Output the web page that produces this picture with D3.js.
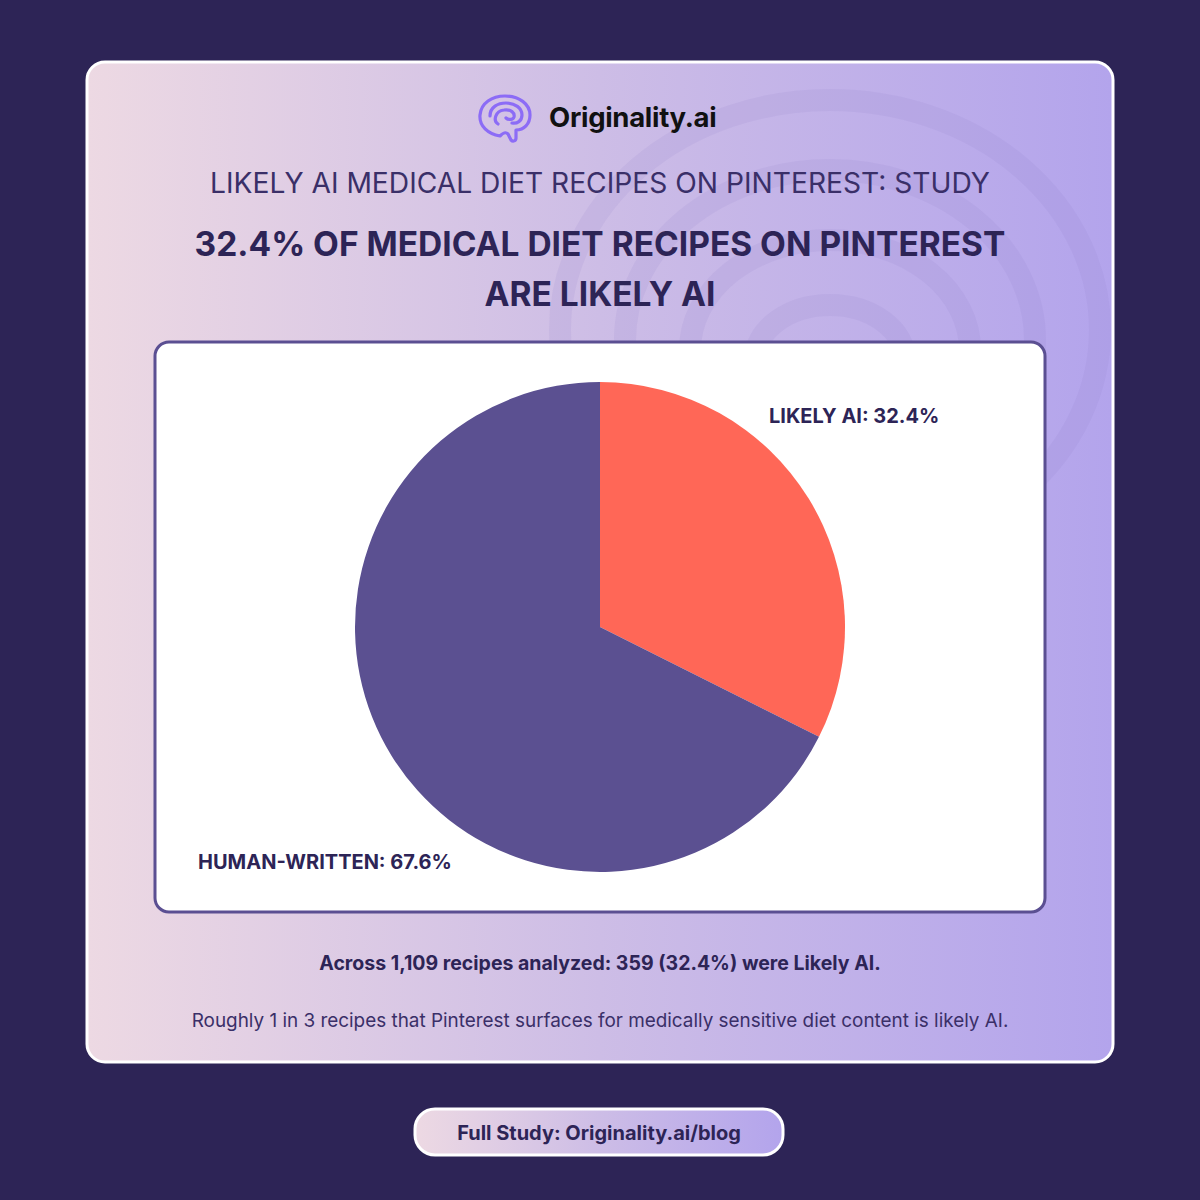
<!DOCTYPE html>
<html><head><meta charset="utf-8">
<script src="https://cdn.jsdelivr.net/npm/d3@7/dist/d3.min.js"></script>
<style>html,body{margin:0;padding:0;background:#2d2456;}svg{display:block;}</style>
</head><body>
<svg id="c" width="1200" height="1200"></svg>
<script>
const categories = ["Likely AI", "Human-Written"];
const values = [32.4, 67.6];
const labels = ["LIKELY AI: 32.4%", "HUMAN-WRITTEN: 67.6%"];
const colors = ["#ff6757", "#5b5091"];
const brand = "Originality.ai";
const subtitle = "LIKELY AI MEDICAL DIET RECIPES ON PINTEREST: STUDY";
const titleLines = ["32.4% OF MEDICAL DIET RECIPES ON PINTEREST", "ARE LIKELY AI"];
const notes = ["Across 1,109 recipes analyzed: 359 (32.4%) were Likely AI.",
  "Roughly 1 in 3 recipes that Pinterest surfaces for medically sensitive diet content is likely AI."];
const cta = "Full Study: Originality.ai/blog";

const FONT = "Inter, 'Noto Sans', sans-serif";
const svg = d3.select("#c");
const defs = svg.append("defs");
const g1 = defs.append("linearGradient").attr("id","cardGrad").attr("x1","0").attr("x2","1").attr("y1","0").attr("y2","0");
g1.append("stop").attr("offset","0").attr("stop-color","#edd9e3");
g1.append("stop").attr("offset","0.5").attr("stop-color","#cdbde6");
g1.append("stop").attr("offset","1").attr("stop-color","#b3a4ec");
const clip = defs.append("clipPath").attr("id","cardClip");
clip.append("rect").attr("x",87).attr("y",62).attr("width",1026).attr("height",1000).attr("rx",18);

svg.append("rect").attr("width",1200).attr("height",1200).attr("fill","#2d2456");
svg.append("rect").attr("x",87).attr("y",62).attr("width",1026).attr("height",1000).attr("rx",18)
  .attr("fill","url(#cardGrad)").attr("stroke","#ffffff").attr("stroke-width",3);

// faint watermark swirl
const wm = svg.append("g").attr("clip-path","url(#cardClip)").attr("fill","none")
  .attr("stroke","#8f7fc8").attr("stroke-opacity",0.12).attr("stroke-width",22);
[[830,330,270,230],[830,340,205,170],[830,350,140,110],[830,360,75,55]].forEach(d=>{
  wm.append("ellipse").attr("cx",d[0]).attr("cy",d[1]).attr("rx",d[2]).attr("ry",d[3]);
});

// logo
const logo = svg.append("g").attr("transform","translate(478,94)").attr("fill","none")
  .attr("stroke","#8c6cf6").attr("stroke-width",3.2).attr("stroke-linecap","round").attr("stroke-linejoin","round");
logo.append("path").attr("d","M22 42 C10 40 1 32 2 21 C3 9 14 2 27 2 C41 2 52 10 52 21 C52 30 46 36 38 36 L38 44 C38 47 35 48 33 46 L30 40 C28 38 26 38 22 42 Z");
logo.append("path").attr("d","M12 22 C12 13 20 9 28 9 C37 9 44 14 44 21 C44 27 39 30 34 29");
logo.append("path").attr("d","M20 30 C15 27 17 17 26 16 C33 15 37 19 36 23 C35 26 30 26 28 24");

svg.append("text").attr("x",549).attr("y",127).text(brand)
  .attr("font-family",FONT).attr("font-weight",700).attr("font-size",27.5)
  .attr("fill","#111111").attr("letter-spacing","-0.3");

svg.append("text").attr("x",600).attr("y",193).attr("text-anchor","middle").text(subtitle)
  .attr("font-family",FONT).attr("font-weight",400).attr("font-size",28.2)
  .attr("fill","#3a2f68");

titleLines.forEach((t,i)=>{
  svg.append("text").attr("x",600).attr("y",256+i*50).attr("text-anchor","middle").text(t)
    .attr("font-family",FONT).attr("font-weight",700).attr("font-size",33.5)
    .attr("fill","#2d2456");
});

// chart panel
svg.append("rect").attr("x",155).attr("y",342).attr("width",890).attr("height",570).attr("rx",14)
  .attr("fill","#ffffff").attr("stroke","#5b4f92").attr("stroke-width",3);

const cx = 600, cy = 627, r = 245;
const pie = d3.pie().sort(null).value(d=>d);
const arc = d3.arc().innerRadius(0).outerRadius(r);
svg.append("g").attr("transform",`translate(${cx},${cy})`)
  .selectAll("path").data(pie(values)).join("path")
  .attr("d",arc).attr("fill",(d,i)=>colors[i]);

const labelPos = [[769,423],[198,869]];
labels.forEach((t,i)=>{
  svg.append("text").attr("x",labelPos[i][0]).attr("y",labelPos[i][1]).text(t)
    .attr("font-family",FONT).attr("font-weight",700).attr("font-size",20)
    .attr("fill","#2d2456");
});

svg.append("text").attr("x",600).attr("y",970).attr("text-anchor","middle").text(notes[0])
  .attr("font-family",FONT).attr("font-weight",700).attr("font-size",19.5)
  .attr("fill","#2d2456");
svg.append("text").attr("x",600).attr("y",1027).attr("text-anchor","middle").text(notes[1])
  .attr("font-family",FONT).attr("font-weight",400).attr("font-size",18.9)
  .attr("fill","#3a2f68");

// CTA button
svg.append("rect").attr("x",415).attr("y",1109).attr("width",368).attr("height",46).attr("rx",20)
  .attr("fill","url(#cardGrad)").attr("stroke","#ffffff").attr("stroke-width",3);
svg.append("text").attr("x",599).attr("y",1140).attr("text-anchor","middle").text(cta)
  .attr("font-family",FONT).attr("font-weight",700).attr("font-size",20)
  .attr("fill","#2d2456");
</script>
</body></html>
